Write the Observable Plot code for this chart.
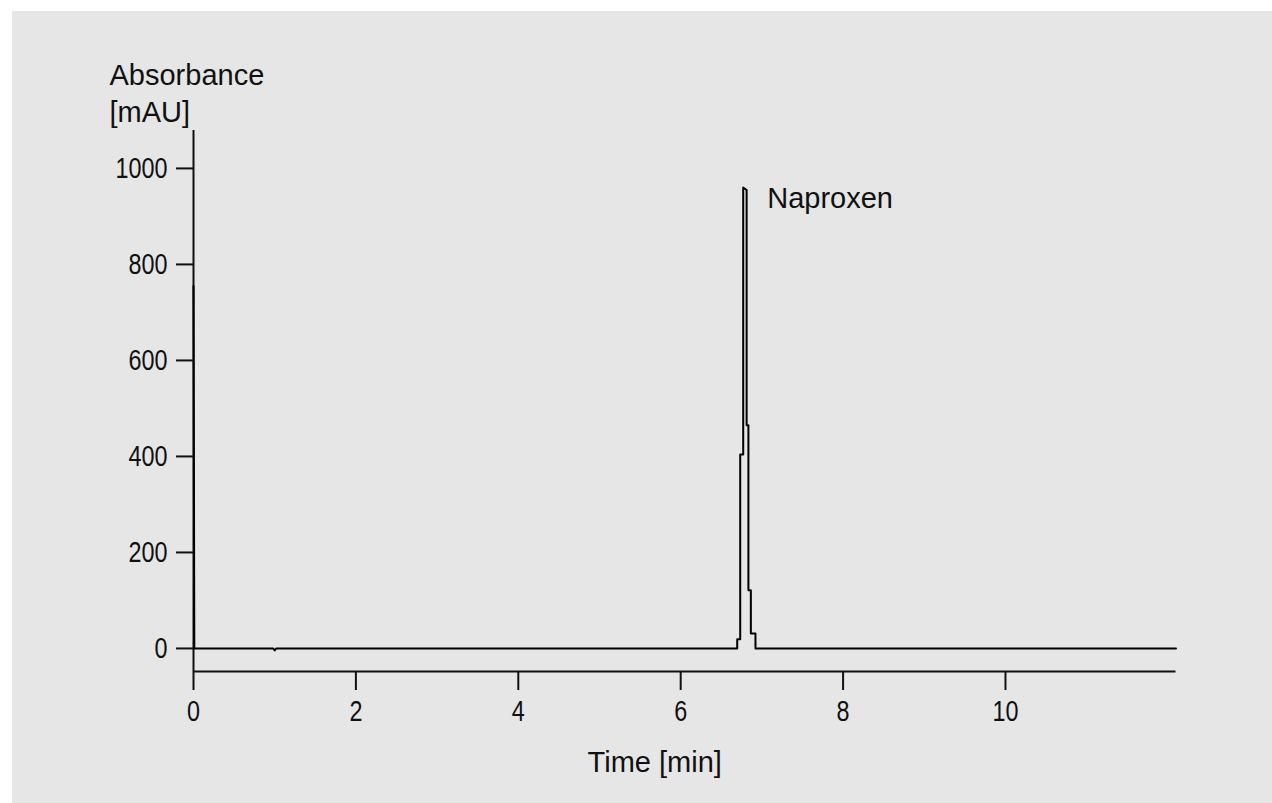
<!DOCTYPE html>
<html>
<head>
<meta charset="utf-8">
<script src="https://cdn.jsdelivr.net/npm/d3@7"></script>
<script src="https://cdn.jsdelivr.net/npm/@observablehq/plot@0.6"></script>
<style>
  html, body { margin: 0; padding: 0; background: #ffffff; }
  #panel { position: absolute; left: 12px; top: 11px; width: 1260px; height: 792px; background: #e6e6e6; }
  #panel svg { display: block; }
</style>
</head>
<body>
<div id="panel"></div>
<script>
// Chromatogram trace (time in min, absorbance in mAU)
const timeMin = [0, 0.01, 0.98, 1.0, 1.02, 6.696, 6.696, 6.733, 6.733, 6.770, 6.770, 6.812, 6.812, 6.834, 6.834, 6.864, 6.864, 6.921, 6.921, 12.1];
const absorbance = [755, 0, 0, -4, 0, 0, 19, 19, 404, 404, 960, 955, 465, 465, 121, 121, 31, 31, 0, 0];

const xTicks = [0, 2, 4, 6, 8, 10];
const yTicks = [0, 200, 400, 600, 800, 1000];
const xDomain = [0, 12.1];
const yDomain = [-48, 1079];

const peakName = "Naproxen";
const peakTime = 6.770;
const peakValue = 960;

const yLabelLines = ["Absorbance", "[mAU]"];
const xLabel = "Time [min]";

const trace = timeMin.map((t, i) => ({t, v: absorbance[i]}));

const textFont = "Liberation Sans, Arial, sans-serif";

const chart = Plot.plot({
  width: 1260,
  height: 792,
  marginLeft: 181,
  marginRight: 96.5,
  marginTop: 119,
  marginBottom: 132,
  style: { background: "transparent", fontFamily: textFont, fontSize: "29px", color: "#111" },
  x: { domain: xDomain },
  y: { domain: yDomain },
  marks: [
    Plot.axisX({ ticks: xTicks, tickSize: 19, tickPadding: 10, tickFormat: d3.format("d"), label: null,
      strokeWidth: 2, stroke: "#111", fill: "#111", fontSize: 29 }),
    Plot.axisY({ ticks: yTicks, tickSize: 17, tickPadding: 9, tickFormat: d3.format("d"), label: null,
      strokeWidth: 2, stroke: "#111", fill: "#111", fontSize: 29 }),
    Plot.ruleY([yDomain[0]], { stroke: "#111", strokeWidth: 2 }),
    Plot.ruleX([0], { stroke: "#111", strokeWidth: 2 }),
    Plot.line(trace, { x: "t", y: "v", stroke: "#000", strokeWidth: 2, curve: "linear" }),
    Plot.text([peakName], { x: [peakTime], y: [peakValue], text: d => d, dx: 24, dy: 0,
      textAnchor: "start", lineAnchor: "top", fontSize: 29, fill: "#111" }),
    Plot.text([yLabelLines[0]], { frameAnchor: "top-left", text: d => d, dx: -84, dy: -66,
      textAnchor: "start", lineAnchor: "top", fontSize: 29, fill: "#111" }),
    Plot.text([yLabelLines[1]], { frameAnchor: "top-left", text: d => d, dx: -84, dy: -29,
      textAnchor: "start", lineAnchor: "top", fontSize: 29, fill: "#111" }),
    Plot.text([xLabel], { frameAnchor: "bottom", text: d => d, dx: -30, dy: 80,
      textAnchor: "middle", lineAnchor: "top", fontSize: 29, fill: "#111" })
  ]
});

// Condensed digits, as in the original figure's typeface
d3.select(chart)
  .selectAll('g[aria-label="x-axis tick label"] text, g[aria-label="y-axis tick label"] text')
  .each(function () {
    const n = (this.textContent || "").length;
    this.setAttribute("textLength", 13 * n);
    this.setAttribute("lengthAdjust", "spacingAndGlyphs");
  });

document.getElementById("panel").appendChild(chart);
</script>
</body>
</html>
